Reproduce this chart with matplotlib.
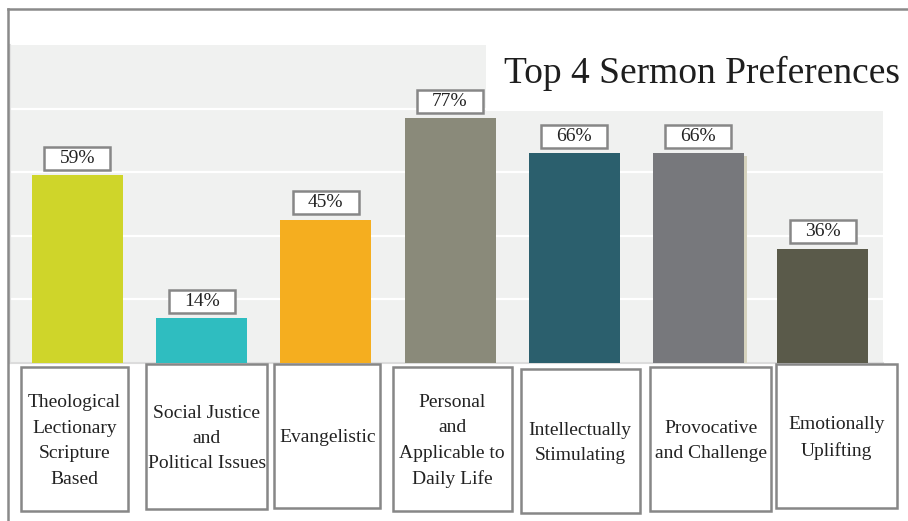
import matplotlib
matplotlib.use("Agg")
import numpy as np
import matplotlib.pyplot as plt
from matplotlib.patches import Rectangle
from matplotlib.lines import Line2D
import matplotlib.patheffects as pe

# ---- data ----
categories = [
    "Theological\nLectionary\nScripture\nBased",
    "Social Justice\nand\nPolitical Issues",
    "Evangelistic",
    "Personal\nand\nApplicable to\nDaily Life",
    "Intellectually\nStimulating",
    "Provocative\nand Challenge",
    "Emotionally\nUplifting",
]
values = [59, 14, 45, 77, 66, 66, 36]
value_labels = ["59%", "14%", "45%", "77%", "66%", "66%", "36%"]
title = "Top 4 Sermon Preferences"

# ---- style ----
colors = ["#cfd52a", "#2fbdc0", "#f5ae1f", "#8a8a7a", "#2b5f6d", "#77787c", "#5a5a4a"]
box_shift_px = [-3, 5, 1.5, 2, 6, 12.5, 14]
box_w_px = [107, 121, 106, 119, 119, 121, 121]
box_top_px = [367, 364, 364, 367, 369, 367, 364]
box_h_px = [144, 145, 144, 144, 144, 144, 144]

plt.rcParams["font.family"] = ["Liberation Serif", "DejaVu Serif"]

W, H = 908, 521
fig = plt.figure(figsize=(W / 100, H / 100), dpi=100)


def fx(px):
    return px / W


def fy(py):
    return 1 - py / H


ax = fig.add_axes([fx(10), fy(363), fx(883) - fx(10), fy(45) - fy(363)])
ax.set_facecolor("#f0f1f0")
x = np.arange(len(values))
bars = ax.bar(x, values, width=0.733, color=colors, zorder=3)
ax.set_xlim(-0.5436, 6.487)
ax.set_ylim(0, 100)
ax.set_yticks([20, 40, 60, 80])
ax.grid(axis="y", color="white", lw=1.6, zorder=1)
ax.set_axisbelow(True)
ax.tick_params(left=False, bottom=False, labelleft=False, labelbottom=False)
for s in ["top", "right"]:
    ax.spines[s].set_visible(False)
ax.spines["bottom"].set_color("#dcdcdc")
ax.spines["bottom"].set_linewidth(1.5)
ax.spines["left"].set_color("#e2e2e2")
ax.spines["left"].set_linewidth(1.5)

bars[5].set_path_effects([
    pe.SimplePatchShadow(offset=(2.2, -2.2), shadow_rgbFace="#d5d2bd", alpha=1.0),
    pe.Normal(),
])

# value label boxes
bw, bh, gap = 66, 23, 5.5
for i, (v, lab) in enumerate(zip(values, value_labels)):
    cx, ty = ax.transData.transform((x[i], v))
    y0 = ty + gap
    fig.add_artist(Rectangle((fx(cx - bw / 2), y0 / H), bw / W, bh / H,
                             transform=fig.transFigure, facecolor="white",
                             edgecolor="#878787", lw=1.8, zorder=6))
    fig.text(cx / W, (y0 + bh / 2) / H, lab, ha="center", va="center",
             fontsize=14, color="#222222", zorder=7)

# category label boxes
for i, cat in enumerate(categories):
    cx, _ = ax.transData.transform((x[i], 0))
    cx += box_shift_px[i]
    w = box_w_px[i]
    top = box_top_px[i]
    h = box_h_px[i]
    fig.add_artist(Rectangle((fx(cx - w / 2), fy(top + h)), w / W, h / H,
                             transform=fig.transFigure, facecolor="white",
                             edgecolor="#878787", lw=1.8, zorder=6))
    fig.text(cx / W, fy(top + h / 2 + 2), cat, ha="center", va="center",
             multialignment="center", fontsize=14, linespacing=1.65,
             color="#222222", zorder=7)

# outer frame
fig.add_artist(Line2D([fx(8), 1], [fy(9), fy(9)], color="#8a8a8a", lw=1.8, zorder=8))
fig.add_artist(Line2D([fx(8), fx(8)], [fy(9), 0], color="#8a8a8a", lw=1.8, zorder=8))

# title area
fig.add_artist(Rectangle((fx(486), fy(110.5)), fx(908) - fx(486), (110.5 - 44) / H,
                         transform=fig.transFigure, facecolor="white",
                         edgecolor="none", zorder=5))
fig.text(fx(702), fy(83), title, ha="center", va="baseline", fontsize=27,
         color="#1e1e1e", zorder=7)

fig.savefig("out.png", dpi=100)
